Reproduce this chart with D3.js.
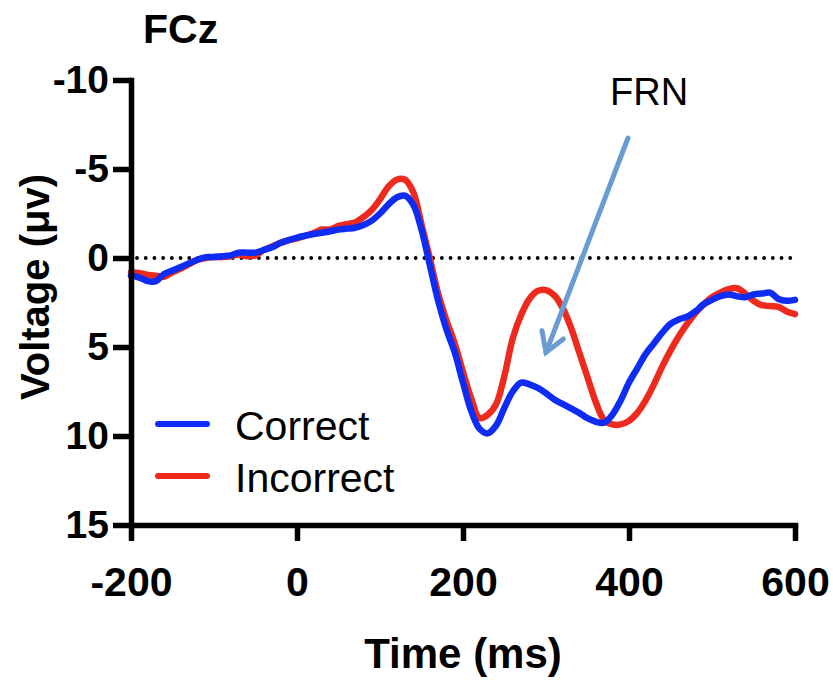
<!DOCTYPE html>
<html>
<head>
<meta charset="utf-8">
<script src="https://cdn.jsdelivr.net/npm/d3@7"></script>
<style>
  html, body { margin: 0; padding: 0; background: #fff; }
  svg { display: block; font-family: "Liberation Sans", Arial, Helvetica, sans-serif; }
</style>
</head>
<body>
<svg id="chart" width="833" height="681"></svg>
<script>
// ---- data ----
const title = "FCz";
const times = [-200,-190,-180,-170,-160,-150,-140,-130,-120,-110,-100,-90,-80,-70,-60,-50,-40,-30,-20,-10,
  0,10,20,30,40,50,60,70,80,90,100,110,120,130,140,150,160,170,180,190,
  200,210,220,230,240,250,260,270,280,290,300,310,320,330,340,350,360,370,380,390,
  400,410,420,430,440,450,460,470,480,490,500,510,520,530,540,550,560,570,580,590,600];
const correct = [1.0,1.1,1.3,1.3,0.9,0.7,0.5,0.3,0.1,-0.05,-0.05,-0.1,-0.15,-0.3,-0.3,-0.3,-0.45,-0.6,-0.85,-1.0,
  -1.15,-1.25,-1.35,-1.42,-1.5,-1.6,-1.65,-1.7,-1.85,-2.1,-2.5,-3.0,-3.4,-3.5,-3.0,-1.6,0.4,2.4,4.0,5.3,
  7.0,8.6,9.6,9.85,9.4,8.4,7.5,7.0,7.1,7.3,7.6,7.95,8.2,8.45,8.7,9.0,9.2,9.25,8.8,8.0,
  7.0,6.2,5.4,4.8,4.2,3.7,3.45,3.3,3.0,2.6,2.35,2.15,2.05,2.15,2.2,2.05,2.0,1.95,2.3,2.4,2.35];
const incorrect = [0.8,0.85,0.95,1.0,1.05,0.8,0.6,0.35,0.1,0.0,-0.05,-0.05,-0.1,-0.2,-0.1,-0.15,-0.45,-0.65,-0.85,-1.0,
  -1.1,-1.25,-1.4,-1.6,-1.6,-1.8,-1.9,-2.0,-2.3,-2.7,-3.3,-4.0,-4.4,-4.4,-3.7,-1.9,0.0,2.0,3.5,4.8,
  6.4,7.9,9.0,8.8,8.2,6.6,4.5,3.2,2.3,1.85,1.8,2.1,2.8,3.9,5.3,6.7,8.1,9.1,9.35,9.35,
  9.15,8.7,8.0,7.1,6.1,5.2,4.4,3.7,3.1,2.6,2.2,1.95,1.75,1.7,2.0,2.4,2.65,2.7,2.75,3.0,3.15];
const xTicks = [-200, 0, 200, 400, 600];
const yTicks = [-10, -5, 0, 5, 10, 15];
const seriesNames = ["Correct", "Incorrect"];
const seriesColors = ["#0f2cf5", "#ee2a1e"];
const xLabel = "Time (ms)";
const yLabel = "Voltage (\u03bcv)";
const annotation = "FRN";
const annotationTarget = [300, 5.3];   // time, voltage where the arrow points

// ---- drawing ----
const svg = d3.select("#chart");
const x = d3.scaleLinear().domain([-200, 600]).range([131, 795]);
const y = d3.scaleLinear().domain([-10, 15]).range([80, 525]);
const axisW = 5.5;

// zero reference dotted line
svg.append("line")
  .attr("x1", x(-200) + 6).attr("x2", x(600))
  .attr("y1", y(0)).attr("y2", y(0))
  .attr("stroke", "#000").attr("stroke-width", 3.8)
  .attr("stroke-linecap", "round")
  .attr("stroke-dasharray", "0.01 8.7");

// series
const line = d3.line().x((d, i) => x(times[i])).y(d => y(d)).curve(d3.curveCatmullRom.alpha(0.5));
[incorrect, correct].forEach((vals, k) => {
  const idx = k === 0 ? 1 : 0;
  svg.append("path")
    .attr("d", line(vals))
    .attr("fill", "none")
    .attr("stroke", seriesColors[idx])
    .attr("stroke-width", 6.5)
    .attr("stroke-linejoin", "round")
    .attr("stroke-linecap", "round");
});

// axes
const gy = svg.append("g").attr("transform", `translate(${x(-200)},0)`)
  .call(d3.axisLeft(y).tickValues(yTicks).tickSize(18).tickSizeOuter(0).tickPadding(4).tickFormat(d3.format("d")));
const gx = svg.append("g").attr("transform", `translate(0,${y(15)})`)
  .call(d3.axisBottom(x).tickValues(xTicks).tickSize(16).tickSizeOuter(0).tickPadding(26).tickFormat(d3.format("d")));
[gy, gx].forEach(g => {
  g.select(".domain").attr("stroke", "#000").attr("stroke-width", axisW).attr("stroke-linecap", "square");
  g.selectAll(".tick line").attr("stroke", "#000").attr("stroke-width", axisW);
  g.selectAll(".tick text").attr("fill", "#000").attr("font-weight", "bold")
    .attr("font-family", "'Liberation Sans', Arial, sans-serif");
});
gy.selectAll(".tick text").attr("font-size", 39).text(d => d < 0 ? "-" + Math.abs(d) : d);
gx.selectAll(".tick text").attr("font-size", 41).text(d => d < 0 ? "-" + Math.abs(d) : d);

// title
svg.append("text").attr("x", 143).attr("y", 43)
  .attr("font-size", 41).attr("font-weight", "bold").text(title);

// axis titles
svg.append("text").attr("x", x(200)).attr("y", 668)
  .attr("text-anchor", "middle").attr("font-size", 42).attr("font-weight", "bold").text(xLabel);
svg.append("text").attr("transform", "translate(49,287) rotate(-90)")
  .attr("text-anchor", "middle").attr("font-size", 40).attr("font-weight", "bold").text(yLabel);

// legend
const legY = [424, 476];
seriesNames.forEach((name, i) => {
  svg.append("line").attr("x1", 158).attr("x2", 207).attr("y1", legY[i]).attr("y2", legY[i])
    .attr("stroke", seriesColors[i]).attr("stroke-width", 6).attr("stroke-linecap", "round");
  svg.append("text").attr("x", 235).attr("y", legY[i] + 16)
    .attr("font-size", 41).attr("fill", "#000").text(name);
});

// FRN annotation with arrow
svg.append("text").attr("x", 610).attr("y", 105).attr("font-size", 38).attr("fill", "#000").text(annotation);
const start = [628, 138];
const tip = [x(annotationTarget[0]), y(annotationTarget[1])];
const ang = Math.atan2(tip[1] - start[1], tip[0] - start[0]);
const headLen = 22, headAng = 0.55;
const arm = a => [tip[0] - headLen * Math.cos(ang + a), tip[1] - headLen * Math.sin(ang + a)];
const arrowColor = "#6a9cd2";
svg.append("line").attr("x1", start[0]).attr("y1", start[1]).attr("x2", tip[0]).attr("y2", tip[1])
  .attr("stroke", arrowColor).attr("stroke-width", 5).attr("stroke-linecap", "round");
svg.append("path")
  .attr("d", d3.line()([arm(headAng), tip, arm(-headAng)]))
  .attr("fill", "none").attr("stroke", arrowColor).attr("stroke-width", 5)
  .attr("stroke-linecap", "round").attr("stroke-linejoin", "miter");
</script>
</body>
</html>
